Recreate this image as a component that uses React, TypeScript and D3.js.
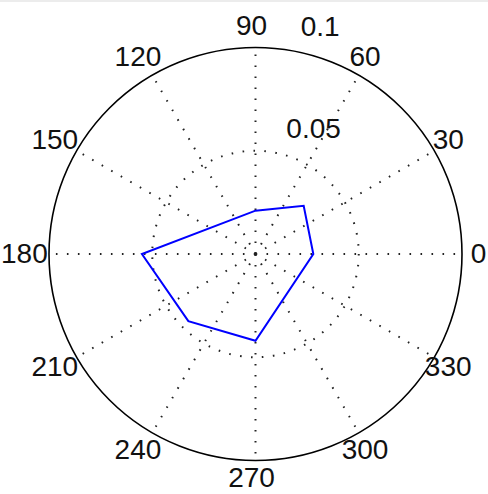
import React from "react";
import * as d3 from "d3";

// polar data, angle in degrees, radius in data units
const angles = [0, 45, 90, 180, 225, 270];
const radii = [0.028, 0.033, 0.021, 0.055, 0.046, 0.042];

const rMax = 0.1;
const ringTicks = [0.05, 0.1];
const spokeAngles = [0, 30, 60, 90, 120, 150, 180, 210, 240, 270, 300, 330];

function App() {
  const svgRef = React.useRef<SVGSVGElement>(null);

  React.useEffect(() => {
    const width = 488;
    const height = 494;
    const cx = 255.5;
    const cy = 254;
    const R = 206.5;

    const svg = d3.select(svgRef.current);
    svg.selectAll("*").remove();
    svg.attr("width", width).attr("height", height);

    svg.append("rect").attr("width", width).attr("height", height).attr("fill", "#fff");
    svg.append("rect").attr("width", width).attr("height", 2).attr("fill", "#ececec");

    const r = d3.scaleLinear().domain([0, rMax]).range([0, R]);
    const toRad = (deg: number) => (deg * Math.PI) / 180;
    const g = svg.append("g").attr("transform", `translate(${cx},${cy})`);

    // spokes
    g.selectAll(".spoke")
      .data(spokeAngles)
      .enter()
      .append("line")
      .attr("x1", 0)
      .attr("y1", 0)
      .attr("x2", (d) => r(rMax) * Math.cos(toRad(d)))
      .attr("y2", (d) => -r(rMax) * Math.sin(toRad(d)))
      .attr("stroke", "#222")
      .attr("stroke-width", 2)
      .attr("stroke-dasharray", "1.6 9.4");

    // rings
    ringTicks.forEach((t) => {
      const solid = t === rMax;
      g.append("circle")
        .attr("r", r(t))
        .attr("fill", "none")
        .attr("stroke", solid ? "#000" : "#222")
        .attr("stroke-width", solid ? 1.6 : 2)
        .attr("stroke-dasharray", solid ? null : "1.6 9.4");
    });

    const font = "'Liberation Sans', Arial, sans-serif";

    // radial tick labels along the 82 degree ray
    const a82 = toRad(82);
    ringTicks.forEach((t) => {
      g.append("text")
        .attr("x", r(t) * Math.cos(a82) + 16.5)
        .attr("y", -r(t) * Math.sin(a82) - 14)
        .attr("font-family", font)
        .attr("font-size", 28)
        .attr("fill", "#111")
        .text(String(t));
    });

    // angle labels (kept inside the frame at the bottom)
    const rt = r(rMax) * 1.1;
    const maxY = height - cy - 17;
    g.selectAll(".alabel")
      .data(spokeAngles)
      .enter()
      .append("text")
      .attr("x", (d) => rt * Math.cos(toRad(d)) - 4)
      .attr("y", (d) => Math.min(-rt * Math.sin(toRad(d)) - 1, maxY))
      .attr("text-anchor", "middle")
      .attr("dominant-baseline", "central")
      .attr("font-family", font)
      .attr("font-size", 28)
      .attr("fill", "#111")
      .text((d) => String(d));

    // data polygon
    const pts = angles.map((a, i) => [toRad(90 - a), r(radii[i])] as [number, number]);
    const line = d3.lineRadial().curve(d3.curveLinearClosed);
    g.append("path")
      .attr("d", line(pts))
      .attr("fill", "none")
      .attr("stroke", "#0000ff")
      .attr("stroke-width", 2);
  }, []);

  return (
    <svg ref={svgRef} style={{ position: "absolute", left: 0, top: 0 }} />
  );
}

export default App;
